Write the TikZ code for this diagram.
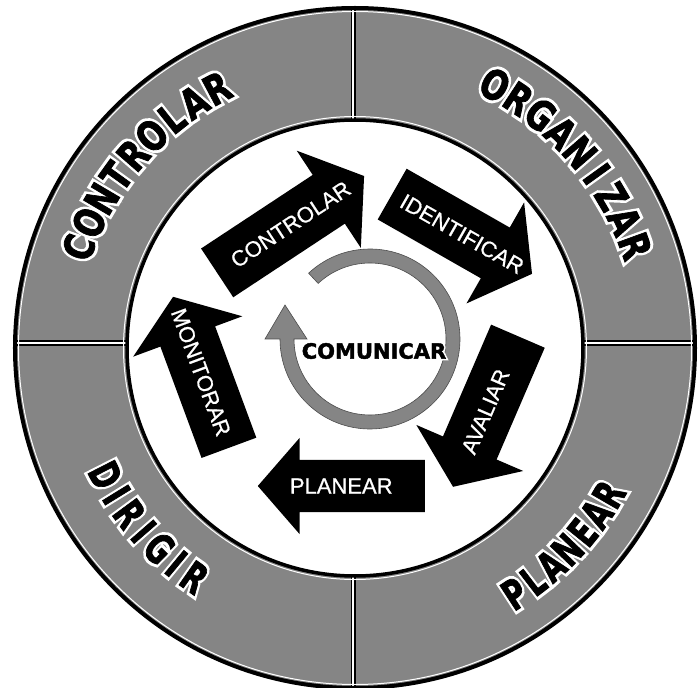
\documentclass[tikz,border=0pt]{standalone}
\usepackage{fontspec}
\setmainfont{Liberation Sans}
\newfontfamily\ringblack{DejaVu Sans}[FakeBold=2]
\newfontfamily\ringhalo{DejaVu Sans}[FakeBold=17]
\newfontfamily\arrowfont{Liberation Sans}[FakeBold=0.8]
\newcommand\rl[1]{\makebox[0pt][c]{\ringhalo\bfseries\color{white}#1}\makebox[0pt][c]{\ringblack\bfseries #1}}
\usetikzlibrary{shapes.arrows,calc}
\begin{document}
\begin{tikzpicture}[x=1pt,y=1pt,
  ringfill/.style={fill=black!48},
  sepline/.style={draw=black,line width=1.6pt,double=white,double distance=2pt},
  barrow/.style={single arrow, fill=black, draw=none, inner xsep=0pt, inner ysep=29pt,
    single arrow head extend=29pt, single arrow tip angle=108, anchor=tail},
  atext/.style={text=white, font=\arrowfont\fontsize{22}{22}\selectfont, inner sep=0pt},
  rletter/.style={font=\fontsize{41}{41}\selectfont, inner sep=0pt},
  ]
\useasboundingbox (-355,-340) rectangle (344,348);
% ring
\fill[ringfill, even odd rule] (0,0) circle[radius=340] (0,0) circle[radius=228];
\draw[sepline] (-1.5,226) -- (-1.5,342);
\draw[sepline] (-1.5,-226) -- (-1.5,-342);
\draw[sepline] (-342,5) -- (-226,5);
\draw[sepline] (226,5) -- (342,5);
\draw[white, line width=1pt] (0,0) circle[radius=336.5];
\draw[white, line width=1pt] (0,0) circle[radius=231.5];
\draw[line width=4pt] (0,0) circle[radius=340];
\draw[line width=3.5pt] (0,0) circle[radius=228];
% ring words
\foreach \ch [count=\i from 0] in {C,O,N,T,R,O,L,A,R}
  \node[rletter, rotate={70-5.25*\i}] (wc\i) at ({160-5.25*\i}:294) {\scalebox{0.78}[1]{\rl{\ch}}};
\foreach \ch [count=\i from 0] in {O,R,G,A,N,I,Z,A,R}
  \node[rletter, rotate={-28-5.25*\i}] (wo\i) at ({62-5.25*\i}:298) {\scalebox{0.78}[1]{\rl{\ch}}};
\foreach \ch [count=\i from 0] in {P,L,A,N,E,A,R}
  \node[rletter, rotate={33+4.5*\i}] (wp\i) at ({-57+4.5*\i}:293) {\scalebox{0.7}[1]{\rl{\ch}}};
\foreach \ch [count=\i from 0] in {D,I,R,I,G,I,R}
  \node[rletter, rotate={-63+4.67*\i}] (wd\i) at ({207+4.67*\i}:280) {\scalebox{0.7}[1]{\rl{\ch}}};
% central circular arrow
\fill[black!48, draw=black!70, line width=0.6pt]
  ($(15,9)+(133:90)$) arc[start angle=133, end angle=-180, radius=90]
  -- (-90,9) -- (-70,43) -- (-48,9) -- (-61,9)
  arc[start angle=180, end angle=493, radius=76] -- cycle;
\node[font=\fontsize{21}{21}\selectfont, inner sep=0pt] (com) at (19,-3) {\makebox[0pt][c]{\ringhalo\bfseries\color{white}COMUNICAR}\makebox[0pt][c]{\ringblack\bfseries COMUNICAR}};
% block arrows
\node[barrow, minimum height=176, rotate=33.4] (a1) at (-138,75) {};
\node[barrow, minimum height=161, rotate=-29.7] (a2) at (37,154) {};
\node[barrow, minimum height=164, rotate=-113.3] (a3) at (163,12) {};
\node[barrow, minimum height=167, rotate=180, inner ysep=26pt, single arrow head extend=22pt, single arrow tip angle=98] (a4) at (70,-138) {};
\node[barrow, minimum height=161, rotate=110.3] (a5) at (-126,-100) {};
\node[atext, rotate=33.4] (t1) at ($(a1.tail)!0.5!(a1.tip)$) {CONTROLAR};
\node[atext, rotate=-29.7] (t2) at ($(a2.tail)!0.5!(a2.tip)$) {IDENTIFICAR};
\node[atext, rotate=66.7] (t3) at ($(a3.tail)!0.5!(a3.tip)$) {AVALIAR};
\node[atext] (t4) at ($(a4.tail)!0.5!(a4.tip)$) {PLANEAR};
\node[atext, rotate=-69.7] (t5) at ($(a5.tail)!0.5!(a5.tip)$) {MONITORAR};
\end{tikzpicture}
\end{document}
